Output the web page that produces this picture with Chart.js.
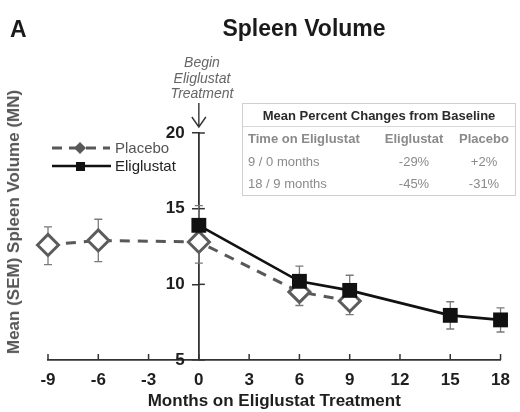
<!DOCTYPE html>
<html>
<head>
<meta charset="utf-8">
<script src="https://cdn.jsdelivr.net/npm/chart.js@4/dist/chart.umd.min.js"></script>
<style>
  html, body { margin: 0; padding: 0; background: #fff; }
  #wrap { position: relative; width: 520px; height: 412px; overflow: hidden; font-family: "Liberation Sans", Arial, sans-serif; }
  canvas { position: absolute; left: 0; top: 0; }
  .t { position: absolute; white-space: nowrap; }
  #panel { left: 10px; top: 16px; font-weight: bold; font-size: 23px; color: #1a1a1a; }
  #title { left: 304px; top: 15px; transform: translateX(-50%); font-weight: bold; font-size: 23px; color: #1a1a1a; }
  #ytitle { left: 14px; top: 222px; transform: translate(-50%, -50%) rotate(-90deg); font-weight: bold; font-size: 17px; color: #555; }
  #annot { left: 202px; top: 55px; transform: translateX(-50%); font-style: italic; font-size: 14px; line-height: 15.5px; color: #666; text-align: center; }
  .leg { font-size: 15px; }
  #tbl { position: absolute; left: 242px; top: 103px; width: 274px; height: 93px; border: 1px solid #cfcfcf; box-sizing: border-box; font-size: 13px; color: #8a8a8a; }
  #tbl .hdr { position: absolute; left: 0; right: 0; top: 4px; text-align: center; font-weight: bold; color: #2a2a2a; }
  #tbl .sep { position: absolute; left: 0; right: 0; top: 22px; border-top: 1px solid #d8d8d8; }
  #tbl .cell { position: absolute; transform: translateX(-50%); }
  #tbl .lcell { position: absolute; left: 5px; }
</style>
</head>
<body>
<div id="wrap">
  <canvas id="c" width="520" height="412"></canvas>
  <div class="t" id="panel">A</div>
  <div class="t" id="title">Spleen Volume</div>
  <div class="t" id="ytitle">Mean (SEM) Spleen Volume (MN)</div>
  <div class="t" id="annot"></div>
  <div class="t leg" id="legP" style="left:115px; top:139px; color:#555;"></div>
  <div class="t leg" id="legE" style="left:115px; top:157px; color:#222;"></div>
  <div id="tbl"></div>
</div>
<script>
// ---- data ----
const xTicks = [-9, -6, -3, 0, 3, 6, 9, 12, 15, 18];
const yTicks = [5, 10, 15, 20];
const seriesNames = ["Placebo", "Eliglustat"];
const placeboMonths = [-9, -6, 0, 6, 9];
const placeboMean   = [12.6, 12.9, 12.8, 9.5, 8.9];
const placeboHigh   = [13.8, 14.3, 14.1, 10.4, 9.6];
const placeboLow    = [11.3, 11.5, 11.4, 8.6, 8.0];
const eligMonths = [0, 6, 9, 15, 18];
const eligMean   = [13.9, 10.2, 9.6, 7.95, 7.65];
const eligHigh   = [15.2, 11.2, 10.6, 8.85, 8.45];
const eligLow    = [12.6, 9.2, 8.6, 7.05, 6.85];
const annotationLines = ["Begin", "Eliglustat", "Treatment"];
const tableTitle = "Mean Percent Changes from Baseline";
const tableHeader = ["Time on Eliglustat", "Eliglustat", "Placebo"];
const tableRows = [
  ["9 / 0 months", "-29%", "+2%"],
  ["18 / 9 months", "-45%", "-31%"]
];
const xTitle = "Months on Eliglustat Treatment";

// ---- text overlays ----
document.getElementById('annot').innerHTML = annotationLines.join('<br>');
document.getElementById('legP').textContent = seriesNames[0];
document.getElementById('legE').textContent = seriesNames[1];
(function buildTable() {
  const t = document.getElementById('tbl');
  let h = '<div class="hdr">' + tableTitle + '</div><div class="sep"></div>';
  const colX = [null, 171, 241];
  const rowY = [27, 50, 72];
  const allRows = [tableHeader].concat(tableRows);
  allRows.forEach((r, i) => {
    const st = i === 0 ? 'font-weight:bold;' : '';
    h += '<div class="lcell" style="top:' + rowY[i] + 'px;' + st + '">' + r[0] + '</div>';
    h += '<div class="cell" style="left:' + colX[1] + 'px;top:' + rowY[i] + 'px;' + st + '">' + r[1] + '</div>';
    h += '<div class="cell" style="left:' + colX[2] + 'px;top:' + rowY[i] + 'px;' + st + '">' + r[2] + '</div>';
  });
  t.innerHTML = h;
})();

const toPts = (xs, ys) => xs.map((x, i) => ({ x: x, y: ys[i] }));

const PLACEBO_C = '#585858';
const ELIG_C = '#111111';

const extras = {
  id: 'extras',
  beforeDatasetsDraw(chart) {
    const ctx = chart.ctx;
    const xs = chart.scales.x, ys = chart.scales.y;
    ctx.save();
    // error bars
    ctx.strokeStyle = '#7a7a7a';
    ctx.lineWidth = 1.3;
    const bars = (months, lo, hi) => {
      months.forEach((m, i) => {
        const px = xs.getPixelForValue(m);
        const y1 = ys.getPixelForValue(lo[i]);
        const y2 = ys.getPixelForValue(hi[i]);
        ctx.beginPath();
        ctx.moveTo(px, y1); ctx.lineTo(px, y2);
        ctx.moveTo(px - 4, y1); ctx.lineTo(px + 4, y1);
        ctx.moveTo(px - 4, y2); ctx.lineTo(px + 4, y2);
        ctx.stroke();
      });
    };
    bars(placeboMonths, placeboLow, placeboHigh);
    bars(eligMonths, eligLow, eligHigh);
    // upward x ticks
    ctx.strokeStyle = '#333';
    ctx.lineWidth = 1.5;
    const by = chart.chartArea.bottom;
    xTicks.forEach(t => {
      const px = xs.getPixelForValue(t);
      ctx.beginPath(); ctx.moveTo(px, by); ctx.lineTo(px, by - 6); ctx.stroke();
    });
    // right half of y ticks
    const ax = xs.getPixelForValue(0);
    yTicks.forEach(t => {
      const py = ys.getPixelForValue(t);
      ctx.beginPath(); ctx.moveTo(ax, py); ctx.lineTo(ax + 6, py); ctx.stroke();
    });
    // arrow
    ctx.strokeStyle = '#333';
    ctx.lineWidth = 1.4;
    const topY = ys.getPixelForValue(20);
    ctx.beginPath();
    ctx.moveTo(ax, topY - 30); ctx.lineTo(ax, topY - 6);
    ctx.moveTo(ax - 7, topY - 16); ctx.lineTo(ax, topY - 6); ctx.lineTo(ax + 7, topY - 16);
    ctx.stroke();
    // legend swatches
    ctx.lineWidth = 3;
    ctx.strokeStyle = PLACEBO_C;
    ctx.setLineDash([10, 7]);
    ctx.beginPath(); ctx.moveTo(52, 148); ctx.lineTo(110, 148); ctx.stroke();
    ctx.setLineDash([]);
    ctx.fillStyle = PLACEBO_C;
    ctx.beginPath();
    ctx.moveTo(80, 142); ctx.lineTo(86, 148); ctx.lineTo(80, 154); ctx.lineTo(74, 148); ctx.closePath();
    ctx.fill();
    ctx.strokeStyle = ELIG_C;
    ctx.lineWidth = 2.5;
    ctx.beginPath(); ctx.moveTo(52, 166); ctx.lineTo(111, 166); ctx.stroke();
    ctx.fillStyle = ELIG_C;
    ctx.fillRect(76, 162, 9, 9);
    ctx.restore();
  }
};

new Chart(document.getElementById('c'), {
  type: 'line',
  data: {
    datasets: [
      {
        label: seriesNames[1],
        data: toPts(eligMonths, eligMean),
        borderColor: ELIG_C,
        backgroundColor: ELIG_C,
        borderWidth: 2.6,
        pointStyle: 'rect',
        pointRadius: 10.5,
        pointBorderWidth: 0,
        pointBackgroundColor: ELIG_C,
        clip: false,
        order: 0
      },
      {
        label: seriesNames[0],
        data: toPts(placeboMonths, placeboMean),
        borderColor: PLACEBO_C,
        backgroundColor: '#fff',
        borderWidth: 3,
        borderDash: [10, 8],
        pointStyle: 'rectRot',
        pointRadius: 10.5,
        pointBorderWidth: 3,
        pointBorderColor: '#5c5c5c',
        pointBackgroundColor: '#fff',
        clip: false,
        order: 1
      }
    ]
  },
  options: {
    responsive: false,
    animation: false,
    layout: { padding: { left: 48, right: 10, top: 133, bottom: 0 } },
    plugins: { legend: { display: false }, tooltip: { enabled: false }, title: { display: false } },
    scales: {
      x: {
        type: 'linear',
        min: -9, max: 18,
        afterBuildTicks: (s) => { s.ticks = xTicks.map(v => ({ value: v })); },
        afterFit: (s) => { s.height = 52; },
        grid: { drawOnChartArea: false, drawTicks: false },
        border: { color: '#333', width: 1.8 },
        ticks: { padding: 10, color: '#1e1e1e', font: { family: 'Liberation Sans', size: 17, weight: 'bold' }, maxRotation: 0 },
        title: { display: true, text: xTitle, color: '#1e1e1e', padding: { top: 0, bottom: 0 }, font: { family: 'Liberation Sans', size: 17, weight: 'bold' } }
      },
      y: {
        type: 'linear',
        position: { x: 0 },
        min: 5, max: 20,
        afterBuildTicks: (s) => { s.ticks = yTicks.map(v => ({ value: v })); },
        grid: { drawOnChartArea: false, drawTicks: true, tickLength: 6, color: '#333', lineWidth: 1.5 },
        border: { color: '#333', width: 1.8 },
        ticks: {
          color: '#1e1e1e',
          font: { family: 'Liberation Sans', size: 17, weight: 'bold' },
          callback: (v) => String(v) + '\u00a0\u00a0\u00a0'
        }
      }
    }
  },
  plugins: [extras]
});
</script>
</body>
</html>
